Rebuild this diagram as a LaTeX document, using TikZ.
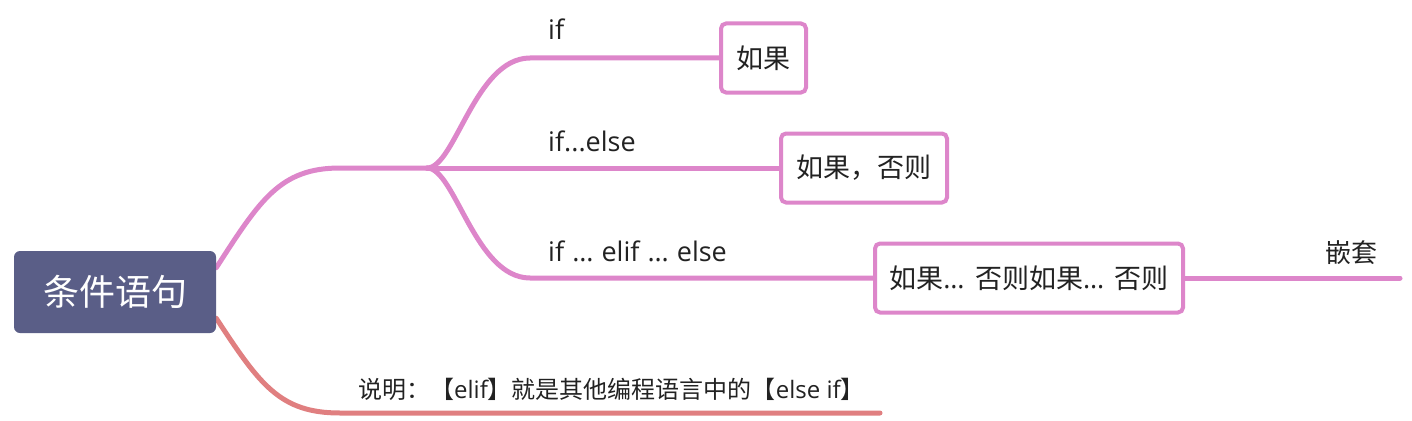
\documentclass[tikz,border=0pt]{standalone}
\usepackage{fontspec}
\setmainfont{Noto Sans CJK SC}
\newfontfamily\latinf{Open Sans}
\usetikzlibrary{calc}
\definecolor{rootc}{HTML}{5A5E87}
\definecolor{pinkc}{HTML}{DD86CA}
\definecolor{redc}{HTML}{E07F80}
\definecolor{txtc}{HTML}{222222}
\pgfdeclarelayer{bg}
\pgfsetlayers{bg,main}
\begin{document}
\begin{tikzpicture}[x=1pt,y=-1pt,
  rootbox/.style={fill=rootc, rounded corners=6pt, minimum width=202pt, minimum height=82pt, inner sep=0pt, text=white, font=\fontsize{36}{40}\selectfont},
  subbox/.style={draw=pinkc, line width=4pt, fill=white, rounded corners=5pt, inner sep=0pt, minimum height=69pt, text=txtc, font=\fontsize{27}{31}\selectfont},
  pinkline/.style={draw=pinkc, line width=5pt, line cap=round},
  redline/.style={draw=redc, line width=5pt, line cap=round},
  lab/.style={inner sep=0pt, text=txtc, font=\fontsize{24}{28}\selectfont},
  latlab/.style={inner sep=0pt, text=txtc, font=\fontsize{27}{31}\latinf}]
\useasboundingbox (0,0) rectangle (1412,420);
\node[rootbox] (root) at (115,292) {条件语句};
\node[subbox, minimum width=85pt] (b1) at (763.5,58) {如果};
\node[subbox, minimum width=166pt] (b2) at (864,168) {如果，否则};
\node[subbox, minimum width=308pt] (b3) at (1029,278) {如果{\latinf…\,} 否则如果{\latinf…\,} 否则};
\coordinate (rs) at ($(root.north east)+(0,17)$);
\coordinate (rr) at ($(root.south east)+(0,-15)$);
\coordinate (j) at (427,168);
\coordinate (e) at (1400,278);
\coordinate (re) at (880,413);
\node[latlab, anchor=base west] (l1) at (548,40) {if};
\node[latlab, anchor=base west] (l2) at (548,151) {if...else};
\node[latlab, anchor=base west] (l3) at (548,261) {if\hspace{0.3em}…\hspace{0.3em}elif\hspace{0.3em}…\hspace{0.3em}else};
\node[lab, font=\fontsize{26}{30}\selectfont] (l4) at (1351,253) {嵌套};
\node[lab, anchor=west] (l5) at (358,389) {说明：【{\latinf elif}】就是其他编程语言中的【{\latinf else if}】};
\begin{pgfonlayer}{bg}
\draw[pinkline] (rs) .. controls (260,200) and (280,168) .. (340,168) -- (j);
\draw[pinkline] (j) .. controls (455,168) and (475,58) .. (530,58) -- (b1.west);
\draw[pinkline] (j) -- (b2.west);
\draw[pinkline] (j) .. controls (455,168) and (475,278) .. (530,278) -- (b3.west);
\draw[pinkline] (b3.east) -- (e);
\draw[redline] (rr) .. controls (260,385) and (280,413) .. (340,413) -- (re);
\end{pgfonlayer}
\end{tikzpicture}
\end{document}
